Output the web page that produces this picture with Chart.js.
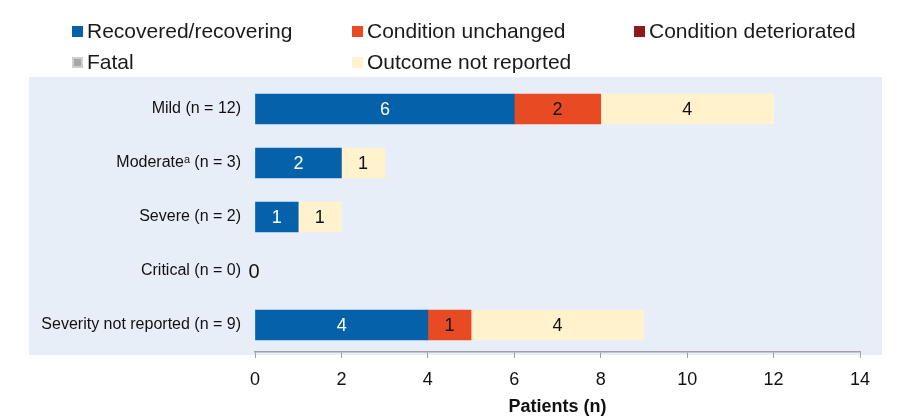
<!DOCTYPE html>
<html>
<head>
<meta charset="utf-8">
<script src="https://cdn.jsdelivr.net/npm/chart.js@4"></script>
<style>
  body { margin: 0; background: #fff; }
  #wrap { position: relative; width: 904px; height: 416px; font-family: "Liberation Sans", Arial, sans-serif; }
  .leg { position: absolute; font-size: 21px; color: #1a1a1a; white-space: nowrap; line-height: 22px; }
  .leg i { display: inline-block; box-sizing: border-box; width: 11px; height: 11px; margin-right: 4px; vertical-align: 1px; }
</style>
</head>
<body>
<div id="wrap">
  <canvas id="outcomeChart" width="904" height="416"></canvas>
  <div id="legend"></div>
</div>
<script>
// Categories and series values
const categories = ['Mild (n = 12)', 'Moderate\u1D43 (n = 3)', 'Severe (n = 2)', 'Critical (n = 0)', 'Severity not reported (n = 9)'];
const recovered = [6, 2, 1, 0, 4];
const unchanged = [2, 0, 0, 0, 1];
const deteriorated = [0, 0, 0, 0, 0];
const fatal = [0, 0, 0, 0, 0];
const notReported = [4, 1, 1, 0, 4];
const xTicks = [0, 2, 4, 6, 8, 10, 12, 14];

const seriesNames = ['Recovered/recovering', 'Condition unchanged', 'Condition deteriorated', 'Fatal', 'Outcome not reported'];
const seriesColors = ['#0561a9', '#e84b23', '#8e1b1b', '#a6a6a6', '#fff2cc'];
const labelColors = ['#ffffff', '#111111', '#ffffff', '#111111', '#111111'];
const seriesData = [recovered, unchanged, deteriorated, fatal, notReported];

// HTML legend, laid out in a 3-column grid like the original
const legendPos = [[72, 20], [352, 20], [634, 20], [72, 51], [352, 51]];
const legendEl = document.getElementById('legend');
seriesNames.forEach((name, i) => {
    const d = document.createElement('div');
    d.className = 'leg';
    d.style.left = legendPos[i][0] + 'px';
    d.style.top = legendPos[i][1] + 'px';
    const border = i === 3 ? 'border:2px solid #cfcfcf;' : '';
    d.innerHTML = '<i style="background:' + seriesColors[i] + ';' + border + '"></i>' + name;
    legendEl.appendChild(d);
});

// light blue panel behind the plot
const panelPlugin = {
    id: 'panel',
    beforeDraw(chart) {
        const { ctx, chartArea } = chart;
        ctx.save();
        ctx.fillStyle = '#e8eef7';
        const top = chartArea.top - 5;
        ctx.fillRect(29, top, chartArea.right + 22 - 29, chartArea.bottom + 3 - top);
        ctx.restore();
    }
};

// value labels in the middle of each segment
const valueLabels = {
    id: 'valueLabels',
    afterDatasetsDraw(chart) {
        const { ctx } = chart;
        ctx.save();
        ctx.font = '18px "Liberation Sans", Arial, sans-serif';
        ctx.textAlign = 'center';
        ctx.textBaseline = 'middle';
        chart.data.datasets.forEach((ds, i) => {
            const meta = chart.getDatasetMeta(i);
            meta.data.forEach((bar, j) => {
                if (ds.data[j] > 0) {
                    ctx.fillStyle = labelColors[i];
                    ctx.fillText(ds.data[j], (bar.x + bar.base) / 2, bar.y + 1);
                }
            });
        });
        // empty categories get a "0" at the base
        const xScale = chart.scales.x;
        const yScale = chart.scales.y;
        categories.forEach((c, j) => {
            const total = seriesData.reduce((s, arr) => s + arr[j], 0);
            if (total === 0) {
                ctx.fillStyle = '#111111';
                ctx.font = '20px "Liberation Sans", Arial, sans-serif';
                ctx.fillText('0', xScale.getPixelForValue(0) - 1, yScale.getPixelForValue(j) + 1);
            }
        });
        ctx.restore();
    }
};

new Chart(document.getElementById('outcomeChart'), {
    type: 'bar',
    data: {
        labels: categories,
        datasets: seriesNames.map((name, i) => ({
            label: name,
            data: seriesData[i].map(v => (v === 0 ? null : v)),
            backgroundColor: seriesColors[i],
            borderWidth: 0,
            barThickness: 30
        }))
    },
    options: {
        indexAxis: 'y',
        responsive: false,
        animation: false,
        layout: {
            padding: { top: 82, right: 44, bottom: 0, left: 0 }
        },
        plugins: {
            legend: { display: false },
            tooltip: { enabled: false }
        },
        scales: {
            x: {
                stacked: true,
                min: 0,
                max: 14,
                afterBuildTicks: function(scale) {
                    scale.ticks = xTicks.map(v => ({ value: v }));
                },
                afterFit: function(scale) {
                    scale.height = 64;
                },
                grid: {
                    drawOnChartArea: false,
                    drawTicks: true,
                    tickLength: 6,
                    color: '#a0a0a0'
                },
                border: { display: true, color: '#a0a0a0', width: 1.5 },
                ticks: {
                    font: { size: 18, family: '"Liberation Sans", Arial, sans-serif' },
                    color: '#111',
                    padding: 11
                },
                title: {
                    display: true,
                    text: 'Patients (n)',
                    font: { size: 18, weight: 'bold', family: '"Liberation Sans", Arial, sans-serif' },
                    color: '#111',
                    padding: { top: 2, bottom: -2 }
                }
            },
            y: {
                stacked: true,
                grid: { display: false },
                border: { display: false },
                afterFit: function(scale) {
                    scale.width = 255;
                },
                ticks: {
                    font: { size: 16, family: '"Liberation Sans", Arial, sans-serif' },
                    color: '#111',
                    padding: 6
                }
            }
        }
    },
    plugins: [panelPlugin, valueLabels]
});
</script>
</body>
</html>
